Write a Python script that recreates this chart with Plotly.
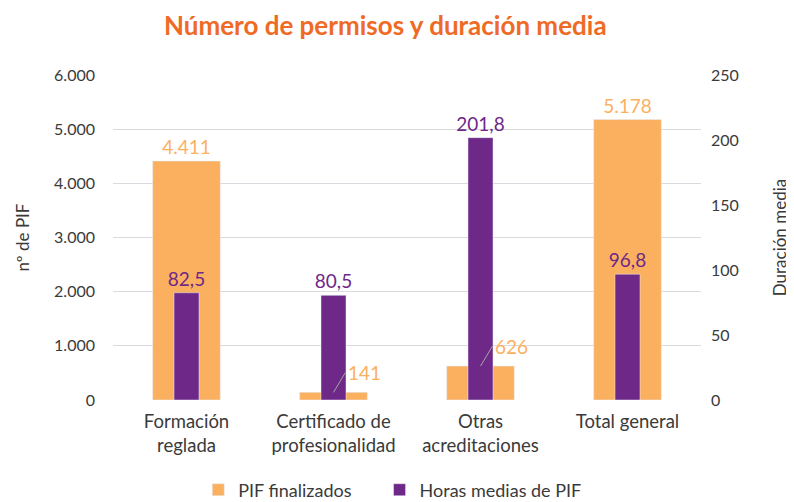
import plotly.graph_objects as go

# data
categorias = ["Formación<br>reglada", "Certificado de<br>profesionalidad",
              "Otras<br>acreditaciones", "Total general"]
pif_finalizados = [4411, 141, 626, 5178]
horas_medias = [82.5, 80.5, 201.8, 96.8]
# categories whose orange label is drawn with a leader line
con_guia = ["Certificado de<br>profesionalidad", "Otras<br>acreditaciones"]

NARANJA = "#FBB060"
MORADO = "#6E2888"
TITULO = "#EF6B25"
TEXTO = "#3A3A3A"
FUENTE = "Lato"

etiquetas_pif = [
    "" if c in con_guia else f"{v:,}".replace(",", ".")
    for c, v in zip(categorias, pif_finalizados)
]

fig = go.Figure()

fig.add_trace(go.Bar(
    x=categorias,
    y=pif_finalizados,
    name="PIF finalizados" + "\u00a0" * 5,  # extra room before the next legend item
    marker_color=NARANJA,
    width=0.46,
    text=etiquetas_pif,
    textposition="outside",
    constraintext="none",
    textfont=dict(color=NARANJA, size=19, family=FUENTE),
    cliponaxis=False,
    yaxis="y",
))

fig.add_trace(go.Bar(
    x=categorias,
    y=horas_medias,
    name="Horas medias de PIF",
    marker_color=MORADO,
    width=0.17,
    texttemplate="%{y:.1f}",
    textposition="outside",
    constraintext="none",
    textfont=dict(color=MORADO, size=19, family=FUENTE),
    cliponaxis=False,
    yaxis="y2",
))

# callout labels for the small orange bars
for c, v in zip(categorias, pif_finalizados):
    if c in con_guia:
        fig.add_annotation(
            x=c, y=v, xref="x", yref="y",
            text=f"{v:,}".replace(",", "."),
            showarrow=True, arrowhead=0, arrowwidth=1, arrowcolor="#A6A6A6",
            ax=12, ay=-20, xanchor="left",
            font=dict(color=NARANJA, size=19, family=FUENTE),
        )

# the page body has an 8px margin, so the figure is kept 8px smaller
fig.update_layout(
    title=dict(
        text="<b>Número de permisos y duración media</b>",
        x=0.48, xanchor="center", y=0.964, yanchor="middle",
        font=dict(color=TITULO, size=26, family=FUENTE),
    ),
    barmode="overlay",
    separators=",.",
    width=786, height=494,
    margin=dict(l=105, r=93, t=67, b=102, autoexpand=False),
    paper_bgcolor="white",
    plot_bgcolor="white",
    font=dict(family=FUENTE, color=TEXTO, size=16),
    xaxis=dict(
        tickfont=dict(size=18.5, color=TEXTO),
        showline=False,
        ticks="",
        ticklabelstandoff=8,
        automargin=False,
    ),
    yaxis=dict(
        title=dict(text="nº de PIF", font=dict(size=17), standoff=20),
        range=[0, 6000], dtick=1000, tickformat=",d",
        gridcolor="#D9D9E0", zeroline=False,
        tickfont=dict(size=16),
        ticklabelstandoff=17,
        automargin=False,
    ),
    yaxis2=dict(
        title=dict(text="Duración media", font=dict(size=17), standoff=36),
        overlaying="y", side="right",
        range=[0, 250], dtick=50,
        showgrid=False, zeroline=False,
        tickfont=dict(size=16),
        ticklabelstandoff=9,
        automargin=False,
    ),
    legend=dict(
        orientation="h", x=0.145, xanchor="left",
        y=-0.277, yanchor="middle",
        font=dict(size=18, color=TEXTO),
        traceorder="normal",
    ),
)

fig.write_html("out.html")
